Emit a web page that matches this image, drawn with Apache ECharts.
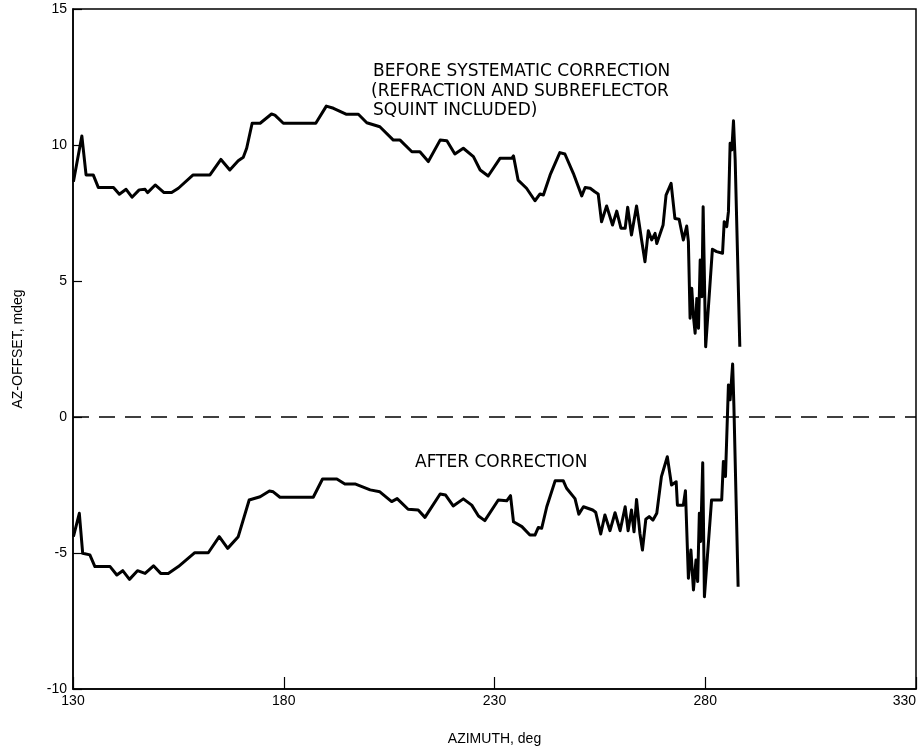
<!DOCTYPE html>
<html>
<head>
<meta charset="utf-8">
<script src="https://cdn.jsdelivr.net/npm/echarts@6/dist/echarts.min.js"></script>
<style>html,body{margin:0;padding:0;background:#fff;}#c{width:919px;height:751px;}</style>
</head>
<body>
<div id="c"></div>
<script>
// Azimuth (deg) and AZ-offset (mdeg)
var beforeAz = [130.1,132.1,133.1,134.8,136.0,139.6,141.0,142.6,144.0,145.7,147.1,147.7,149.5,151.6,153.4,155.0,158.5,162.5,165.1,167.2,169.2,170.4,171.2,172.5,174.4,177.1,177.9,179.9,187.6,190.1,191.8,194.9,197.7,199.7,202.8,206.0,207.6,210.4,212.3,214.3,217.1,218.7,220.6,222.6,225.0,226.6,228.5,231.3,234.1,234.5,235.6,237.6,239.6,240.8,241.6,243.2,245.5,246.7,248.7,250.7,251.5,252.7,253.8,254.6,255.4,256.6,258.0,259.0,260.0,261.0,261.6,262.5,263.7,264.9,265.7,266.5,267.3,268.1,268.5,270.0,270.7,271.9,272.8,273.8,274.8,275.6,276.0,276.4,276.8,277.2,277.6,278.0,278.4,278.8,279.2,279.5,280.1,281.7,282.7,284.1,284.5,285.1,285.5,285.9,286.3,286.7,287.1,288.2];
var beforeVal = [8.65,10.33,8.9,8.9,8.44,8.44,8.19,8.37,8.08,8.35,8.37,8.25,8.53,8.25,8.25,8.41,8.9,8.9,9.47,9.08,9.42,9.55,9.88,10.8,10.8,11.14,11.1,10.8,10.8,11.43,11.35,11.13,11.13,10.82,10.67,10.18,10.18,9.75,9.75,9.39,10.18,10.16,9.67,9.88,9.57,9.08,8.86,9.51,9.51,9.6,8.71,8.41,7.95,8.2,8.16,8.9,9.72,9.67,8.96,8.13,8.44,8.41,8.28,8.2,7.18,7.76,7.06,7.57,6.94,6.94,7.71,6.69,7.76,6.51,5.71,6.85,6.51,6.75,6.38,7.06,8.16,8.59,7.3,7.27,6.51,7.02,6.45,3.63,4.73,3.69,3.08,4.36,3.26,5.77,4.42,7.73,2.58,6.17,6.08,6.02,7.18,7.0,7.55,10.06,9.82,10.89,9.45,2.58];

var afterAz = [130.1,131.5,132.3,134.0,135.2,138.8,140.4,141.8,143.4,145.3,147.1,149.1,150.8,152.6,155.0,158.9,162.1,164.7,166.7,169.2,171.8,174.4,176.6,177.5,179.1,187.0,189.2,192.6,194.5,196.9,200.5,202.8,205.6,206.9,209.5,211.9,213.5,217.1,218.4,220.2,222.6,224.6,226.2,227.7,230.9,232.9,233.8,234.5,236.5,238.4,239.6,240.4,241.2,242.4,244.4,246.3,247.1,249.1,250.0,251.1,253.3,254.0,255.2,256.2,257.4,258.6,259.8,261.0,261.7,262.5,263.1,263.7,264.5,265.1,265.9,266.7,267.6,268.5,269.6,271.0,272.0,273.1,273.4,274.8,275.3,276.0,276.6,277.2,277.8,278.2,278.6,278.9,279.4,279.8,281.5,283.9,284.3,284.8,285.5,285.9,286.5,286.8,287.8];
var afterVal = [-4.4,-3.54,-5.01,-5.07,-5.5,-5.5,-5.81,-5.65,-5.97,-5.65,-5.75,-5.47,-5.75,-5.75,-5.5,-4.99,-4.99,-4.4,-4.83,-4.4,-3.05,-2.93,-2.72,-2.75,-2.95,-2.95,-2.28,-2.28,-2.46,-2.46,-2.68,-2.75,-3.11,-3.0,-3.39,-3.42,-3.69,-2.83,-2.87,-3.27,-3.01,-3.24,-3.64,-3.81,-3.05,-3.08,-2.89,-3.85,-4.03,-4.34,-4.34,-4.06,-4.09,-3.3,-2.34,-2.34,-2.62,-3.0,-3.57,-3.3,-3.42,-3.5,-4.3,-3.6,-4.18,-3.52,-4.18,-3.3,-4.18,-3.42,-4.22,-3.03,-4.28,-4.89,-3.76,-3.66,-3.79,-3.54,-2.19,-1.46,-2.5,-2.38,-3.24,-3.24,-2.71,-5.93,-4.89,-6.36,-5.26,-6.05,-3.54,-4.58,-1.68,-6.61,-3.05,-3.05,-1.64,-2.19,1.18,0.63,1.95,0.38,-6.24];

var zeroAz = [130, 330];
var zeroVal = [0, 0];

var xTicks = [130, 180, 230, 280, 330];
var yTicks = [-10, -5, 0, 5, 10, 15];

function pairs(a, b) { return a.map(function (v, i) { return [v, b[i]]; }); }

var FONT = 'Liberation Sans, Arial, sans-serif';
var chart = echarts.init(document.getElementById('c'), null, {renderer: 'canvas'});
chart.setOption({
  backgroundColor: '#fff',
  animation: false,
  grid: {left: 73, right: 3, top: 9, bottom: 62, containLabel: false, outerBoundsMode: 'none',
         show: true, borderColor: '#000', borderWidth: 1.5, backgroundColor: 'transparent'},
  xAxis: {
    type: 'value', min: xTicks[0], max: xTicks[xTicks.length - 1], interval: 50,
    name: 'AZIMUTH, deg', nameLocation: 'middle', nameGap: 43,
    nameTextStyle: {color: '#000', fontFamily: FONT, fontSize: 14},
    axisLine: {show: true, onZero: false, lineStyle: {color: '#000', width: 1.5}},
    axisTick: {show: true, inside: true, length: 12, lineStyle: {color: '#000', width: 1.2}},
    axisLabel: {color: '#000', fontFamily: FONT, fontSize: 14, margin: 5, alignMaxLabel: 'right'},
    splitLine: {show: false}
  },
  yAxis: {
    type: 'value', min: yTicks[0], max: yTicks[yTicks.length - 1], interval: 5,
    name: 'AZ-OFFSET, mdeg', nameLocation: 'middle', nameGap: 48, nameRotate: 90,
    nameTextStyle: {color: '#000', fontFamily: FONT, fontSize: 14},
    axisLine: {show: true, onZero: false, lineStyle: {color: '#000', width: 1.5}},
    axisTick: {show: true, inside: true, length: 9, lineStyle: {color: '#000', width: 1.2}},
    axisLabel: {color: '#000', fontFamily: FONT, fontSize: 14, margin: 6},
    splitLine: {show: false}
  },
  series: [
    {type: 'line', data: pairs(zeroAz, zeroVal), symbol: 'none', silent: true,
     lineStyle: {color: '#000', width: 1.3, type: [16, 10]}},
    {type: 'line', data: pairs(beforeAz, beforeVal), symbol: 'none',
     lineStyle: {color: '#000', width: 3, join: 'round'}},
    {type: 'line', data: pairs(afterAz, afterVal), symbol: 'none',
     lineStyle: {color: '#000', width: 3, join: 'round'}}
  ],
  graphic: [
    {type: 'text', left: 373, top: 63, style: {text: 'BEFORE SYSTEMATIC CORRECTION', fill: '#000', font: '17px "DejaVu Sans"'}},
    {type: 'text', left: 371, top: 83, style: {text: '(REFRACTION AND SUBREFLECTOR', fill: '#000', font: '17px "DejaVu Sans"'}},
    {type: 'text', left: 373, top: 102, style: {text: 'SQUINT INCLUDED)', fill: '#000', font: '17px "DejaVu Sans"'}},
    {type: 'text', left: 415, top: 454, style: {text: 'AFTER CORRECTION', fill: '#000', font: '17px "DejaVu Sans"'}}
  ]
});
</script>
</body>
</html>
